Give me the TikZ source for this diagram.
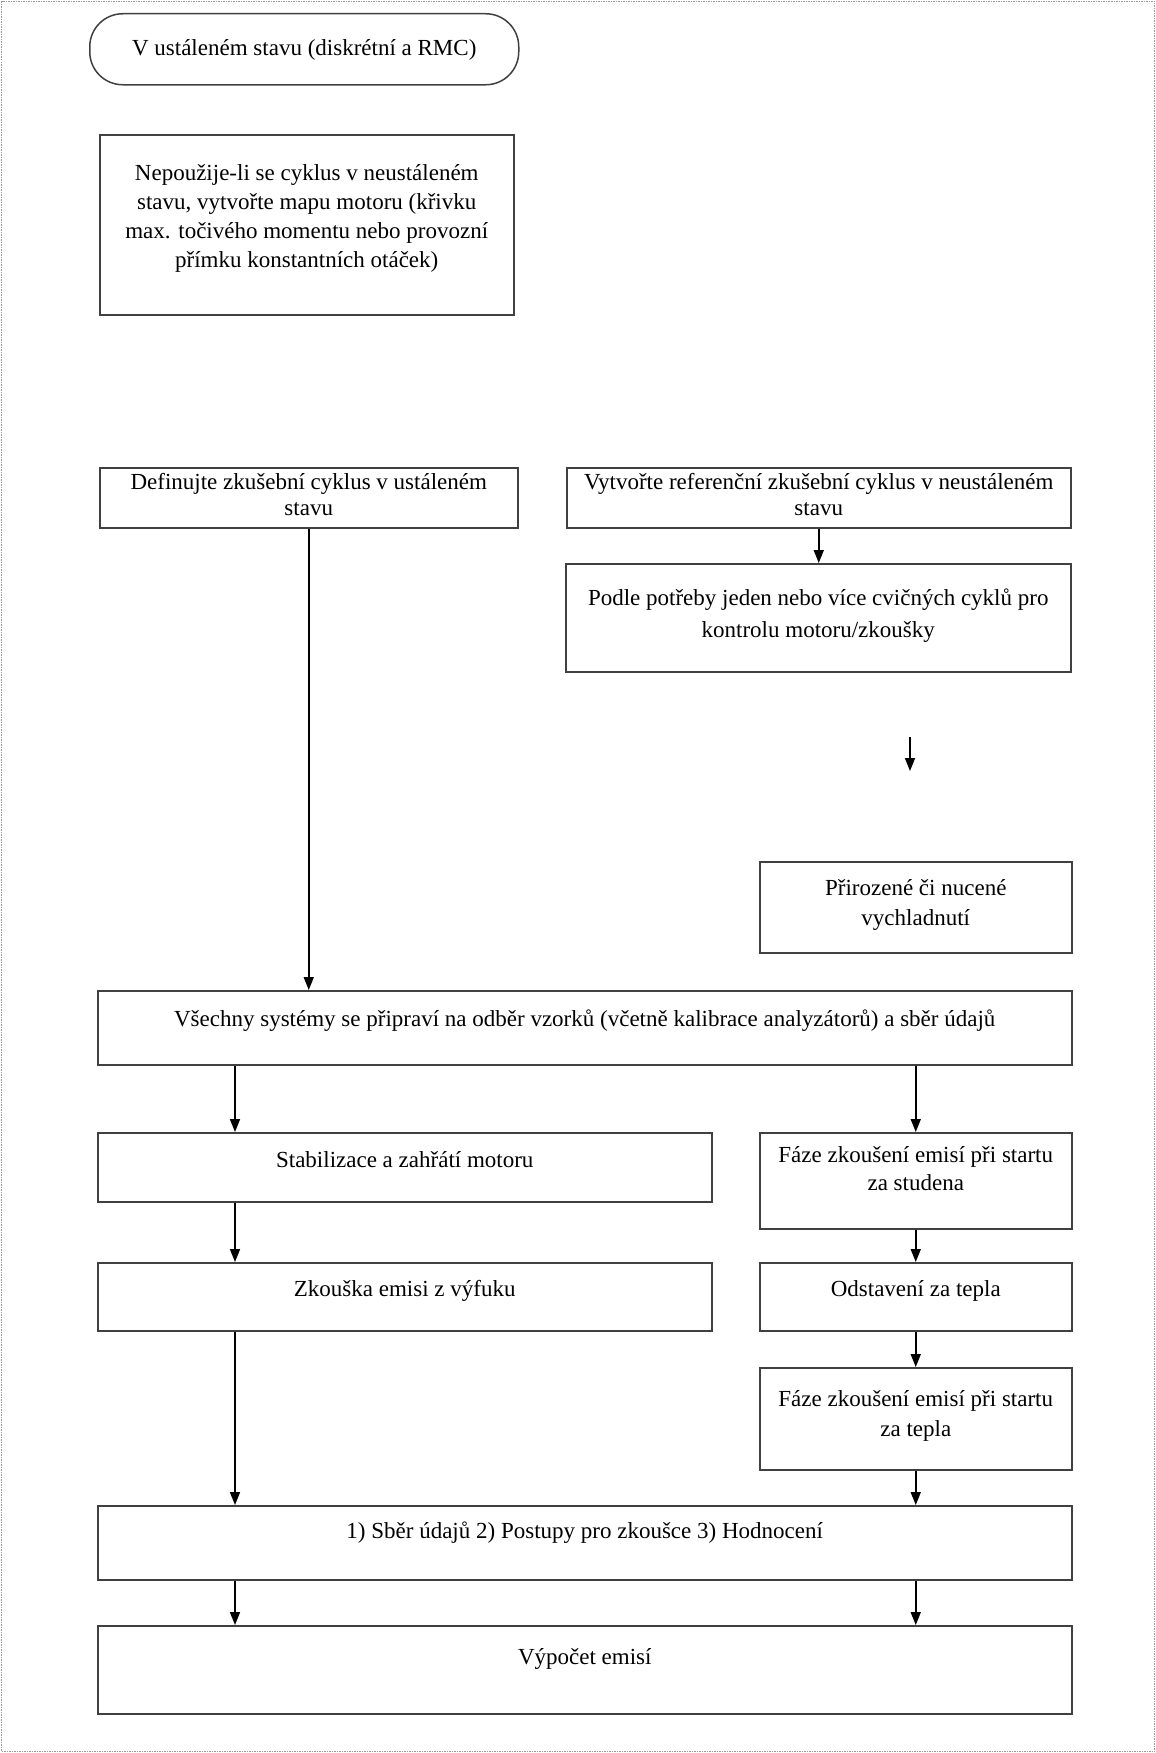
\documentclass[tikz,border=0pt]{standalone}
\usepackage{fontspec}
\setmainfont{Liberation Serif}
\usetikzlibrary{arrows.meta}
\newcommand{\bt}[4]{\parbox[c][#2][c]{#1}{\centering\strut #4\strut\par\vspace*{#3}}}
\begin{document}
\begin{tikzpicture}[x=1pt,y=-1pt,
  font=\fontsize{23}{29}\selectfont,
  box/.style={draw=black!75, line width=1.5pt, inner sep=0pt, anchor=north west, fill=white},
  arr/.style={draw=black, line width=1.6pt, -{Triangle[length=13pt,width=10pt]}},
  outerframe/.style={draw=black!40, line width=1.5pt, densely dotted}]
\useasboundingbox (0,0) rectangle (1156,1753);
\draw[outerframe] (1.5,1.5) rectangle (1154.5,1751.5);

\node[box, rounded corners=33pt] (start) at (89,13) {\bt{429pt}{71pt}{0pt}{V ustáleném stavu (diskrétní a RMC)}};
\node[box] (nep) at (99,134) {\bt{414pt}{180pt}{14pt}{Nepoužije-li se cyklus v neustáleném\\ stavu, vytvořte mapu motoru (křivku\\ max. točivého momentu nebo provozní\\ přímku konstantních otáček)}};
\node[box, font=\fontsize{23}{26}\selectfont] (def) at (99,467) {\bt{418pt}{60pt}{0pt}{Definujte zkušební cyklus v ustáleném\\ stavu}};
\node[box, font=\fontsize{23}{26}\selectfont] (vyt) at (566,467) {\bt{504pt}{60pt}{0pt}{Vytvořte referenční zkušební cyklus v neustáleném\\ stavu}};
\node[box, font=\fontsize{23}{32}\selectfont] (podle) at (565,563) {\bt{505pt}{108pt}{6pt}{Podle potřeby jeden nebo více cvičných cyklů pro\\ kontrolu motoru/zkoušky}};
\node[box, font=\fontsize{23}{30}\selectfont] (prir) at (759,861) {\bt{312pt}{91pt}{6pt}{Přirozené či nucené\\ vychladnutí}};
\node[box] (vse) at (97,990) {\bt{974pt}{74pt}{14pt}{Všechny systémy se připraví na odběr vzorků (včetně kalibrace analyzátorů) a sběr údajů}};
\node[box] (stab) at (97,1132) {\bt{614pt}{69pt}{12pt}{Stabilizace a zahřátí motoru}};
\node[box, font=\fontsize{23}{28}\selectfont] (fcold) at (759,1132) {\bt{312pt}{96pt}{20pt}{Fáze zkoušení emisí při startu\\ za studena}};
\node[box] (zk) at (97,1262) {\bt{614pt}{68pt}{12pt}{Zkouška emisi z výfuku}};
\node[box] (ods) at (759,1262) {\bt{312pt}{68pt}{12pt}{Odstavení za tepla}};
\node[box, font=\fontsize{23}{30}\selectfont] (fwarm) at (759,1367) {\bt{312pt}{102pt}{6pt}{Fáze zkoušení emisí při startu\\ za tepla}};
\node[box] (sber) at (97,1505) {\bt{974pt}{74pt}{20pt}{1) Sběr údajů 2) Postupy pro zkoušce 3) Hodnocení}};
\node[box] (vyp) at (97,1625) {\bt{974pt}{88pt}{22pt}{Výpočet emisí}};

\coordinate (L) at (235,0);
\coordinate (fa) at (910,737);
\coordinate (fb) at (910,771);

\draw[arr] (def.south) -- (def.south |- vse.north);
\draw[arr] (vyt.south) -- (vyt.south |- podle.north);
\draw[arr] (fa) -- (fb);
\draw[arr] (vse.south -| L) -- (stab.north -| L);
\draw[arr] (vse.south -| fcold.north) -- (fcold.north);
\draw[arr] (stab.south -| L) -- (zk.north -| L);
\draw[arr] (fcold.south) -- (ods.north);
\draw[arr] (ods.south) -- (fwarm.north);
\draw[arr] (zk.south -| L) -- (sber.north -| L);
\draw[arr] (fwarm.south) -- (fwarm.south |- sber.north);
\draw[arr] (sber.south -| L) -- (vyp.north -| L);
\draw[arr] (sber.south -| fwarm.south) -- (vyp.north -| fwarm.south);
\end{tikzpicture}
\end{document}
